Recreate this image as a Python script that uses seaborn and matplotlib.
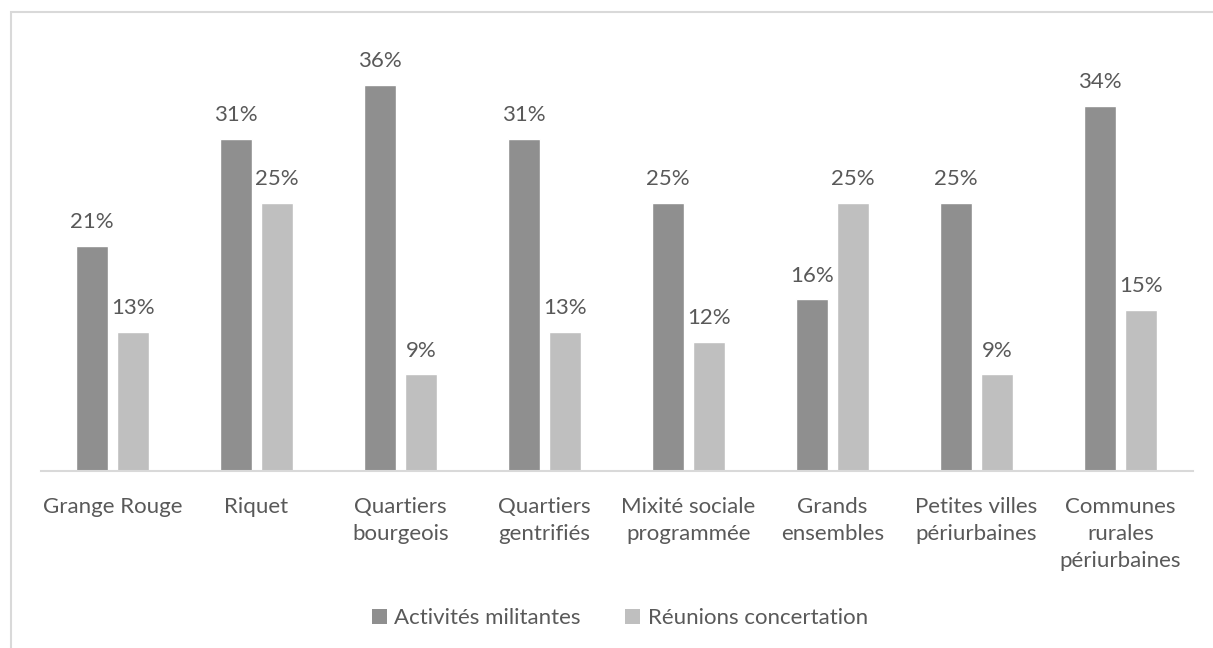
import pandas as pd
import matplotlib.pyplot as plt
import seaborn as sns
from matplotlib.patches import Rectangle, Patch

# data
categories = ["Grange Rouge", "Riquet", "Quartiers\nbourgeois", "Quartiers\ngentrifiés",
              "Mixité sociale\nprogrammée", "Grands\nensembles", "Petites villes\npériurbaines",
              "Communes\nrurales\npériurbaines"]
series = ["Activités militantes", "Réunions concertation"]
militantes = [0.21, 0.31, 0.36, 0.31, 0.25, 0.16, 0.25, 0.34]
concertation = [0.13, 0.25, 0.09, 0.13, 0.12, 0.25, 0.09, 0.15]
colors = ["#8f8f8f", "#bfbfbf"]
txt = "#595959"

df = pd.DataFrame({
    "cat": categories * 2,
    "serie": [series[0]] * len(categories) + [series[1]] * len(categories),
    "val": militantes + concertation,
})

sns.set_style("white")
plt.rcParams["font.family"] = ["Lato", "DejaVu Sans"]

fig = plt.figure(figsize=(12.13, 6.48), dpi=100)
ax = fig.add_axes([40.5 / 1213, 1 - 471 / 648, 1152 / 1213, 429 / 648])

sns.barplot(data=df, x="cat", y="val", hue="serie", palette=colors, width=0.57, gap=0.22,
            saturation=1, legend=False, ax=ax)

for c in ax.containers:
    ax.bar_label(c, fmt=lambda v: f"{v:.0%}", padding=10, fontsize=16, color=txt)

ax.set_ylim(0, 0.40)
ax.set_xlim(-0.5, len(categories) - 0.5)
ax.set_yticks([])
ax.set_xticks(range(len(categories)), labels=categories, linespacing=1.42)
ax.set_xlabel("")
ax.set_ylabel("")
for s in ["top", "left", "right"]:
    ax.spines[s].set_visible(False)
ax.spines["bottom"].set_color("#d9d9d9")
ax.spines["bottom"].set_linewidth(1.5)
ax.tick_params(axis="x", length=0, pad=19, labelsize=16, labelcolor=txt)

handles = [Patch(facecolor=col, edgecolor="none") for col in colors]
fig.legend(handles, series, loc="center", bbox_to_anchor=(620 / 1213, 1 - 618 / 648),
           ncol=2, frameon=False, fontsize=16, labelcolor=txt, handlelength=0.65,
           handleheight=0.65, handletextpad=0.35, columnspacing=2.0)

# light frame around the chart area
fig.patches.append(Rectangle((11 / 1213, -0.2), 1.5, 1 - 12 / 648 + 0.2, transform=fig.transFigure,
                             fill=False, edgecolor="#d9d9d9", linewidth=1.5))

fig.savefig("out.png", dpi=100)
